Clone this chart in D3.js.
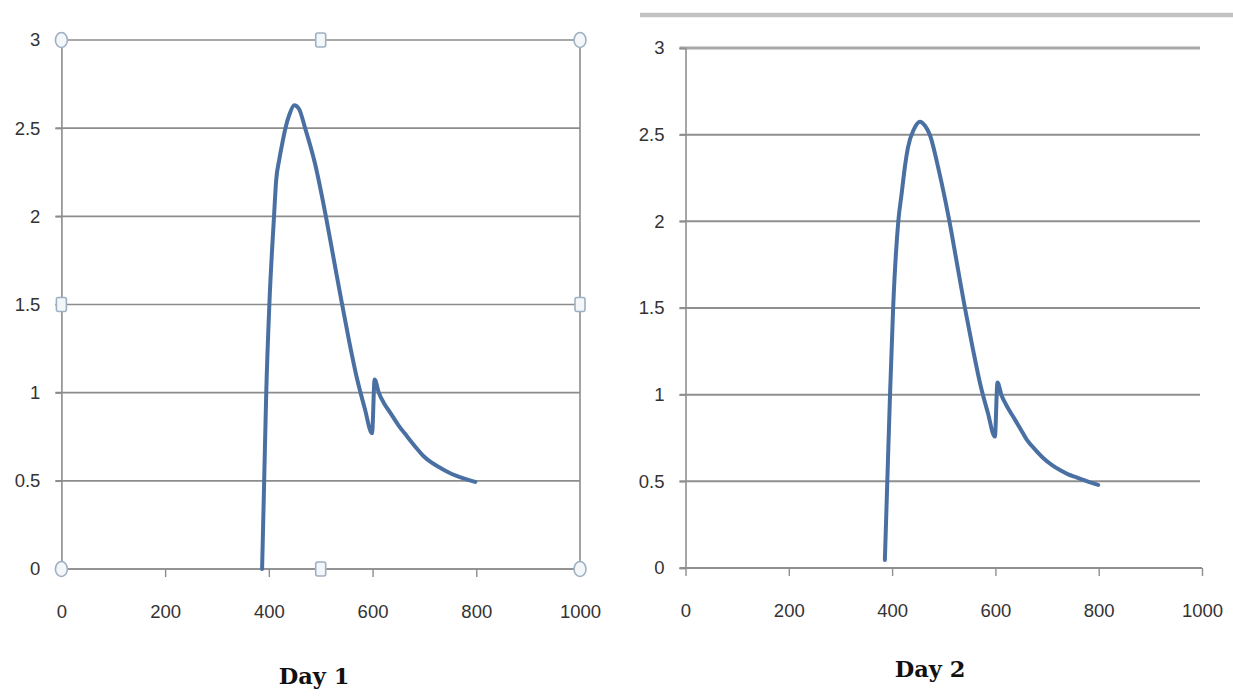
<!DOCTYPE html>
<html>
<head>
<meta charset="utf-8">
<script src="https://cdn.jsdelivr.net/npm/d3@7"></script>
<style>
  html, body { margin: 0; padding: 0; background: #ffffff; }
  svg { display: block; }
</style>
</head>
<body>
<svg id="chart" width="1233" height="698"></svg>
<script>
// ---- data ----
const xTicks = [0, 200, 400, 600, 800, 1000];
const yTicks = [0, 0.5, 1, 1.5, 2, 2.5, 3];
const titles = ["Day 1", "Day 2"];

const day1X = [387, 391, 395, 401, 410, 414, 420, 425, 432, 440, 449, 458, 470, 489, 510, 525, 540, 555, 570, 585, 599, 604, 612, 622, 634, 650, 666, 682, 698, 714, 730, 746, 762, 780, 798];
const day1Y = [0, 0.5, 1.0, 1.5, 2.0, 2.2, 2.32, 2.40, 2.5, 2.58, 2.63, 2.61, 2.5, 2.3, 2.0, 1.76, 1.52, 1.29, 1.08, 0.91, 0.77, 1.075, 1.0, 0.94, 0.887, 0.815, 0.754, 0.695, 0.641, 0.603, 0.575, 0.549, 0.528, 0.51, 0.494];

const day2X = [386, 390.7, 396, 402, 412, 418.5, 425, 431, 442, 454, 464, 473, 490, 511, 526, 541, 556, 571.5, 585, 599, 604, 612, 622, 634, 648, 661, 677, 693, 709, 725, 741, 757, 778, 799];
const day2Y = [0.046, 0.5, 1.0, 1.5, 2.0, 2.16, 2.32, 2.43, 2.53, 2.575, 2.55, 2.5, 2.3, 2.0, 1.75, 1.5, 1.27, 1.05, 0.9, 0.758, 1.07, 0.995, 0.935, 0.875, 0.805, 0.739, 0.683, 0.633, 0.595, 0.565, 0.54, 0.523, 0.5, 0.479];

// ---- drawing ----
const svg = d3.select("#chart");
const fontTick = "'Liberation Sans', Arial, sans-serif";
const fontTitle = "'DejaVu Serif', serif";
const lineColor = "#4a70a3";

function drawPanel(opt) {
  const g = svg.append("g");
  const x = d3.scaleLinear().domain([0, 1000]).range([opt.left, opt.right]);
  const y = d3.scaleLinear().domain([0, 3]).range([opt.bottom, opt.top]);

  // horizontal gridlines
  g.append("g").selectAll("line").data(yTicks).join("line")
    .attr("x1", opt.left - 6).attr("x2", opt.gridRight)
    .attr("y1", d => y(d)).attr("y2", d => y(d))
    .attr("stroke", d => (opt.topLine && d === 3) ? opt.topLine : opt.grid)
    .attr("stroke-width", d => (opt.topLineW && d === 3) ? opt.topLineW : opt.gridW);

  // y axis
  const yAxis = d3.axisLeft(y).tickValues(yTicks).tickSize(6).tickPadding(15)
    .tickFormat(d3.format(""));
  const ya = g.append("g").attr("transform", `translate(${opt.left},0)`).call(yAxis);
  ya.select(".domain").attr("stroke", opt.axis).attr("stroke-width", 1.6);
  ya.selectAll(".tick line").attr("stroke", opt.axis).attr("stroke-width", 1.4);
  ya.selectAll(".tick text").attr("font-family", fontTick).attr("font-size", 18.5).attr("fill", "#333");

  // x axis
  const xAxis = d3.axisBottom(x).tickValues(xTicks).tickSize(8).tickPadding(28)
    .tickFormat(d3.format(""));
  const xa = g.append("g").attr("transform", `translate(0,${opt.bottom})`).call(xAxis);
  xa.select(".domain").attr("stroke", "none");
  xa.selectAll(".tick line").attr("stroke", opt.axis).attr("stroke-width", 1.4);
  xa.selectAll(".tick text").attr("font-family", fontTick).attr("font-size", 18.5).attr("fill", "#333");
  g.append("line")
    .attr("x1", x(0)).attr("x2", x(1000))
    .attr("y1", y(0)).attr("y2", y(0))
    .attr("stroke", opt.grid).attr("stroke-width", opt.gridW);

  if (opt.rightBorder) {
    g.append("line")
      .attr("x1", x(1000)).attr("x2", x(1000))
      .attr("y1", y(3)).attr("y2", y(0))
      .attr("stroke", opt.axis).attr("stroke-width", 1.6);
  }

  // data line
  const pts = opt.xs.map((v, i) => [v, opt.ys[i]]);
  g.append("path")
    .datum(pts)
    .attr("fill", "none")
    .attr("stroke", lineColor)
    .attr("stroke-width", 4)
    .attr("stroke-linejoin", "round")
    .attr("stroke-linecap", "round")
    .attr("d", d3.line().x(d => x(d[0])).y(d => y(d[1])).curve(d3.curveMonotoneX));

  // selection handles
  if (opt.handles) {
    const corners = [[0, 3], [1000, 3], [0, 0], [1000, 0]];
    const mids = [[500, 3], [500, 0], [0, 1.5], [1000, 1.5]];
    g.append("g").selectAll("ellipse").data(corners).join("ellipse")
      .attr("cx", d => x(d[0])).attr("cy", d => y(d[1]))
      .attr("rx", 6).attr("ry", 7.5)
      .attr("fill", "#f3f7fa").attr("stroke", "#9fb0c2").attr("stroke-width", 1.6);
    g.append("g").selectAll("rect").data(mids).join("rect")
      .attr("x", d => x(d[0]) - 5).attr("y", d => y(d[1]) - 7)
      .attr("width", 10).attr("height", 14).attr("rx", 2)
      .attr("fill", "#f3f7fa").attr("stroke", "#9fb0c2").attr("stroke-width", 1.6);
  }

  // title
  g.append("text")
    .attr("x", opt.titleX).attr("y", opt.titleY)
    .attr("text-anchor", "middle")
    .attr("font-family", fontTitle).attr("font-weight", "bold")
    .attr("font-size", 22.5).attr("fill", "#111")
    .text(opt.title);
}

drawPanel({
  left: 61.4, right: 580, top: 40, bottom: 569, gridRight: 580,
  grid: "#8c8c8c", gridW: 1.6, axis: "#8c8c8c",
  rightBorder: true, handles: true,
  xs: day1X, ys: day1Y, title: titles[0], titleX: 314, titleY: 684
});

// top band above the second chart
svg.append("line").attr("x1", 640).attr("x2", 1233).attr("y1", 15).attr("y2", 15)
  .attr("stroke", "#c2c2c2").attr("stroke-width", 4.5);

drawPanel({
  left: 685.5, right: 1202, top: 48, bottom: 568, gridRight: 1200,
  grid: "#8f8f8f", gridW: 2, axis: "#8f8f8f", topLine: "#a8a8a8", topLineW: 3,
  rightBorder: false, handles: false,
  xs: day2X, ys: day2Y, title: titles[1], titleX: 930, titleY: 677
});
</script>
</body>
</html>
